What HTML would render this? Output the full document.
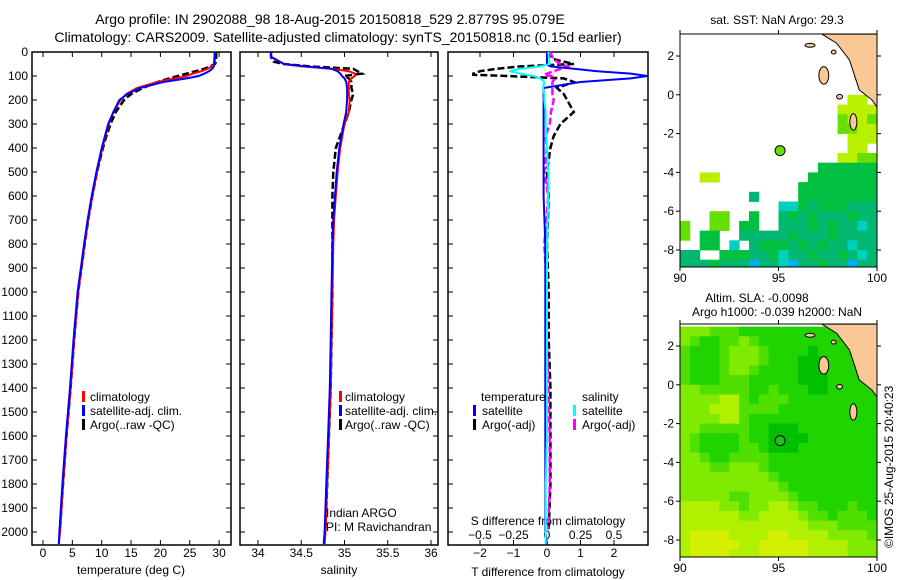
<!DOCTYPE html>
<html><head><meta charset="utf-8"><style>
html,body{margin:0;padding:0;background:#fff;}
svg{display:block;font-family:"Liberation Sans",sans-serif;}
</style></head><body>
<svg id="fig" width="900" height="580" viewBox="0 0 900 580">
<text x="330" y="24" font-size="14" text-anchor="middle">Argo profile: IN 2902088_98 18-Aug-2015 20150818_529 2.8779S 95.079E</text>
<text x="338" y="42" font-size="14" text-anchor="middle">Climatology: CARS2009. Satellite-adjusted climatology: synTS_20150818.nc (0.15d earlier)</text>
<text x="777" y="24" font-size="12" text-anchor="middle">sat. SST: NaN Argo: 29.3</text>
<text x="757" y="302" font-size="12" text-anchor="middle">Altim. SLA: -0.0098</text>
<text x="777" y="316" font-size="12" text-anchor="middle">Argo h1000: -0.039 h2000: NaN</text>
<text x="0" y="0" font-size="12" transform="translate(893,548) rotate(-90)">©IMOS 25-Aug-2015 20:40:23</text>
</svg>
<script>
// ---- profile data ----
const depthClim=[0,20,50,60,70,80,90,100,110,125,150,175,200,250,300,400,500,600,700,800,1000,1200,1400,1600,1800,2000,2050];
const tempClim=[29.2,29.2,29.1,28.8,28.0,27,25.5,24.5,22.5,19.5,16,14.2,13.2,12,11.2,10.1,9.2,8.4,7.7,7.1,6.0,5.3,4.7,4.0,3.4,2.9,2.7];
const tempSat=[29.3,29.3,29.2,29.1,28.8,28.3,27.5,26.5,24.5,20.5,16.5,14.4,13.0,12,11.1,10.0,9.1,8.3,7.6,7.0,5.9,5.2,4.6,3.9,3.3,2.8,2.7];
const salClim=[34.15,34.15,34.3,34.5,34.85,35.05,35.12,35.12,35.08,35.05,35.05,35.05,35.06,35.05,35.0,34.95,34.92,34.9,34.88,34.87,34.86,34.85,34.84,34.82,34.8,34.78,34.77];
const salSat=[34.15,34.15,34.3,34.55,34.85,34.92,34.95,34.97,35.0,35.02,35.03,35.03,35.03,35.02,34.99,34.94,34.91,34.89,34.87,34.86,34.85,34.84,34.83,34.81,34.79,34.77,34.76];
const depthArgo=[0,20,40,50,60,70,80,90,100,110,125,150,175,200,250,300,350,400,500,600,700,800,1000,1200,1400,1600,1800,1990];
const tempArgo=[29.5,29.5,29.5,29.3,28.5,27.5,26.0,24.5,23.0,21.5,19.5,17.0,15.0,13.8,12.4,11.5,10.8,10.2,9.2,8.4,7.7,7.1,6.0,5.3,4.7,4.0,3.4,2.9];
const salArgo=[34.15,34.15,34.18,34.3,34.6,35.1,35.15,35.2,35.0,35.05,35.08,35.08,35.1,35.08,35.05,35.0,34.95,34.9,34.87,34.86,34.86,34.86,34.86,34.85,34.84,34.82,34.8,34.78];
const diffDepth=[0,50,60,70,80,90,100,110,125,150,175,200,250,300,400,500,600,800,1000,1200,1400,1600,1800,2000,2050];
const dTsat=[0,0,0.1,0.8,1.5,2.5,3.0,2.5,1.0,-0.1,-0.1,-0.1,-0.1,-0.1,-0.1,-0.1,-0.1,-0.05,-0.05,-0.05,-0.05,-0.05,-0.05,-0.05,0];
const dSsat=[0.01,0.02,-0.05,-0.2,-0.28,-0.2,-0.1,-0.05,-0.02,-0.03,-0.02,-0.02,-0.01,-0.01,0,0.01,0.01,0,0,0,0,0,-0.01,-0.01,-0.01];
const diffDepthArgo=[0,30,50,60,70,80,90,95,100,110,125,150,175,200,250,300,350,400,500,600,800,1000,1200,1400,1600,1800,1990];
const dTargo=[0,0.2,0.8,-0.8,-1.5,-2.0,-2.2,-2.2,-1.2,0.5,0.8,0.3,0.5,0.6,0.8,0.4,0.2,0.1,0.0,0.05,0.0,0.05,0.05,0.1,0.1,0.1,0.05];
const dSargo=[0.02,0.05,0.1,0.15,0.1,0.05,0.0,-0.02,0.03,0.06,0.04,0.04,0.04,0.05,0.03,0.02,-0.01,0.0,-0.02,0.01,-0.02,0.0,0.0,0.01,0.02,0.02,0.01];
const depthTicks=[0,100,200,300,400,500,600,700,800,900,1000,1100,1200,1300,1400,1500,1600,1700,1800,1900,2000];
const tempTicks=[0,5,10,15,20,25,30];
const salTicks=[34,34.5,35,35.5,36];
const tDiffTicks=[-2,-1,0,1,2];
const sDiffTicks=[-0.5,-0.25,0,0.25,0.5];
// ---- map data: 0.5 deg cells, rows from lat 3 downward, cols from lon 90 ----
const sstGrid=[
"....................","....................","....................","....................",
"....................","....................",".................yy.","................yyyy",
"................lyyl","................llyy",".................yyy",".................yy.",
"................yyll","..............gggggg","..yy.........ggggggg","............gggggggg",
".......t....gggggggg","..........ccgtgggttt","...ll..g..tgtgtttgtt","l..ll.gg..tttgtgttct",
"l.gg..tttttgtttgtttt","..gg.c.tgggtgtgttctt","tt..gggttgcttgttgtct","tttgtttbttcbttgttbtt"];
const slaGrid=[
"dddcccbbbbbbbbbbbbbb","dcbbccdcbbbbbbbbbbbb","cbbbcdddcbbbbabbbbbb","cbbbcdddcbbbaaabbbbb",
"cbbbcddcbbbbaaabbbbb","cbbbcccbbbbbaaabbbbb","ddcccccbbcbbbaabbbbb","ddddeecbcccbbbbbbbbb",
"dddeeeccccbbbbbbbbbb","ddddeecbbbbbbbbbbbbb","ddcccccbbaaabbbbbbbb","dcbbbbcbbaaaabbbbbbb",
"dcbbbbccbaaabbbbbbbb","ddcbbccccbbbbbbbbbbb","dddccdddcbbbbbbbbbbb","dddddddddcbbbbbbbbbb",
"ddddddddddcbbbbbbbbb","dddddccddddcbbbbbbbb","eeeeddcddeedccbbbcbb","eeeeeeddeeeedccbcccb",
"eeeeeeeeeeeeedddcccc","effffeeeeffeeeeddddc","efffffeefffffeeeeddd","effffeeefffffeeeeddd"];
const landLon=[97.2,97.95,98.6,99.1,99.75,100,100];
const landLat=[3.13,2.66,1.8,0.25,-0.27,-0.63,3.13];
const argoLon=95.08, argoLat=-2.88;
const mapLonTicks=[90,95,100];
const mapLatTicks=[2,0,-2,-4,-6,-8];

const NS='http://www.w3.org/2000/svg';
const svg=document.getElementById('fig');
function mk(tag,attrs,parent){const e=document.createElementNS(NS,tag);for(const k in attrs)e.setAttribute(k,attrs[k]);(parent||svg).appendChild(e);return e;}

const Y0=52,Y1=545,yD=d=>Y0+d*0.24;
function panel(name,x0,x1){
  const g=mk('g',{});
  
  
  const r=mk('rect',{x:x0,y:Y0,width:x1-x0,height:Y1-Y0,fill:'none',stroke:'#000','stroke-width':1.5},g);
  
  
  return g;
}
function line(g,xs,ds,fx,color,dash,name,w){
  const pts=xs.map((v,i)=>fx(v).toFixed(1)+','+yD(ds[i]).toFixed(1)).join(' ');
  const p=mk('polyline',{points:pts,fill:'none',stroke:color,'stroke-width':w||2,'stroke-dasharray':dash||'none'},g);
  
  
}
function txt(g,x,y,s,anchor,size,name){
  const t=mk('text',{x:x,y:y,'font-size':size||12,'text-anchor':anchor||'start'},g);
  t.textContent=s;
  
  
  return t;
}
function xticks(g,ticks,fx,labY,name,len){
  ticks.forEach(v=>{
    const x=fx(v);
    mk('line',{x1:x,y1:Y1,x2:x,y2:Y1-(len||5),stroke:'#000'},g);
    mk('line',{x1:x,y1:Y0,x2:x,y2:Y0+(len||5),stroke:'#000'},g);
    txt(g,x,labY,String(v).replace('-','−'),'middle',12,name);
  });
}
function yticks(g,x0,x1,labels){
  depthTicks.forEach(d=>{
    mk('line',{x1:x0,y1:yD(d),x2:x0+5,y2:yD(d),stroke:'#000'},g);
    mk('line',{x1:x1,y1:yD(d),x2:x1-5,y2:yD(d),stroke:'#000'},g);
    if(labels) txt(g,28,yD(d)+4,String(d),'end',12,'depth-tick-label');
  });
}
function legendBar(g,x,y,color,name){
  const r=mk('rect',{x:x,y:y-10,width:3,height:11,fill:color},g);
  
  
}

const xT=v=>43+v*5.87;
const g1=panel('temperature-panel',32,231);
yticks(g1,32,231,true);
xticks(g1,tempTicks,xT,557,'temperature-tick-label');
txt(g1,131,574,'temperature (deg C)','middle',12,'temperature-axis-title');
line(g1,tempArgo,depthArgo,xT,'#000','7,3','temperature-argo-line',2.5);
line(g1,tempClim,depthClim,xT,'#ff0000',null,'temperature-climatology-line');
line(g1,tempSat,depthClim,xT,'#0000ff',null,'temperature-satellite-line');
legendBar(g1,82,401,'#ff0000','legend-climatology-swatch');txt(g1,90,401,'climatology','start',12,'legend-climatology');
legendBar(g1,82,415,'#0000ff','legend-satellite-swatch');txt(g1,90,415,'satellite-adj. clim.','start',12,'legend-satellite-adj');
legendBar(g1,82,429,'#000','legend-argo-swatch');txt(g1,90,429,'Argo(..raw -QC)','start',12,'legend-argo');

const xS=v=>258+(v-34)*86.5;
const g2=panel('salinity-panel',240,438);
yticks(g2,240,438,false);
xticks(g2,salTicks,xS,557,'salinity-tick-label');
txt(g2,339,574,'salinity','middle',12,'salinity-axis-title');
line(g2,salArgo,depthArgo,xS,'#000','7,3','salinity-argo-line',2.5);
line(g2,salClim,depthClim,xS,'#ff0000',null,'salinity-climatology-line');
line(g2,salSat,depthClim,xS,'#0000ff',null,'salinity-satellite-line');
legendBar(g2,339,401,'#ff0000','legend2-climatology-swatch');txt(g2,345,401,'climatology','start',12,'legend2-climatology');
legendBar(g2,339,415,'#0000ff','legend2-satellite-swatch');txt(g2,345,415,'satellite-adj. clim.','start',12,'legend2-satellite-adj');
legendBar(g2,339,429,'#000','legend2-argo-swatch');txt(g2,345,429,'Argo(..raw -QC)','start',12,'legend2-argo');
txt(g2,326,517,'Indian ARGO','start',12,'pi-institution');
txt(g2,326,531,'PI: M Ravichandran','start',12,'pi-name');

const xdT=v=>547+v*33.5;
const xdS=v=>547+v*134;
const g3=panel('difference-panel',448,648);
yticks(g3,448,648,false);
xticks(g3,tDiffTicks,xdT,557,'t-diff-tick-label');
sDiffTicks.forEach(v=>txt(g3,xdS(v),539,String(v).replace('-','−'),'middle',12,'s-diff-tick-label'));
txt(g3,548,525,'S difference from climatology','middle',12,'s-diff-axis-title');
txt(g3,548,576,'T difference from climatology','middle',12,'t-diff-axis-title');
line(g3,dTargo,diffDepthArgo,xdT,'#000','7,3','t-diff-argo-line',2.5);
line(g3,dSargo,diffDepthArgo,xdS,'#ff00ff','7,3','s-diff-argo-line',2.5);
line(g3,dTsat,diffDepth,xdT,'#0000ff',null,'t-diff-satellite-line');
line(g3,dSsat,diffDepth,xdS,'#00ffff',null,'s-diff-satellite-line');
txt(g3,481,401,'temperature','start',12,'legend3-temperature-heading');
txt(g3,582,401,'salinity','start',12,'legend3-salinity-heading');
legendBar(g3,473,415,'#0000ff','legend3-t-satellite-swatch');txt(g3,482,415,'satellite','start',12,'legend3-t-satellite');
legendBar(g3,473,429,'#000','legend3-t-argo-swatch');txt(g3,482,429,'Argo(-adj)','start',12,'legend3-t-argo');
legendBar(g3,573,415,'#00ffff','legend3-s-satellite-swatch');txt(g3,582,415,'satellite','start',12,'legend3-s-satellite');
legendBar(g3,573,429,'#ff00ff','legend3-s-argo-swatch');txt(g3,582,429,'Argo(-adj)','start',12,'legend3-s-argo');

const sstColors={g:'#00c040',t:'#00b870',l:'#66e000',y:'#b8f000',c:'#00d0c0',b:'#00b0f0'};
const slaColors={a:'#00c000',b:'#20d400',c:'#50e000',d:'#80ea00',e:'#b0f000',f:'#d2f000'};
function map(name,top,grid,colors,markerFill){
  const mx0=680,mx1=877,yLat2=top+22,k=19.4;
  const bot=top+233;
  const X=lon=>mx0+(lon-90)*19.7, Y=lat=>yLat2+(2-lat)*k;
  const g=mk('g',{});
  
  
  const cid='clip-'+name;
  const cp=mk('clipPath',{id:cid},g);mk('rect',{x:mx0,y:top,width:mx1-mx0,height:bot-top},cp);
  const cg=mk('g',{'clip-path':'url(#'+cid+')'},g);
  grid.forEach((row,i)=>{
    for(let j=0;j<row.length;j++){
      const ch=row[j]; if(!colors[ch]) continue;
      const lon=90+j*0.5, lat=3-i*0.5;
      const r=mk('rect',{x:X(lon).toFixed(1),y:Y(lat).toFixed(1),width:(X(lon+0.5)-X(lon)+0.4).toFixed(1),height:(Y(lat-0.5)-Y(lat)+0.4).toFixed(1),fill:colors[ch]},cg);
      
      
    }
  });
  const lp=mk('polygon',{points:landLon.map((v,i)=>X(v)+','+Y(landLat[i])).join(' '),fill:'#f9c896',stroke:'#000','stroke-width':1},cg);
  
  
  [[97.3,1.0,0.25,0.45],[98.8,-1.4,0.18,0.42],[96.6,2.55,0.25,0.1],[97.8,2.2,0.12,0.1],[98.1,-0.1,0.15,0.12]].forEach(a=>{
    const e=mk('ellipse',{cx:X(a[0]),cy:Y(a[1]),rx:a[2]*19.7,ry:a[3]*k,fill:'#f9c896',stroke:'#000'},cg);
    
    
  });
  const mkr=mk('circle',{cx:X(argoLon),cy:Y(argoLat),r:5,fill:markerFill,stroke:'#000','stroke-width':1},g);
  
  
  const fr=mk('rect',{x:mx0,y:top,width:mx1-mx0,height:bot-top,fill:'none',stroke:'#000','stroke-width':1},g);
  
  
  mapLonTicks.forEach(v=>{mk('line',{x1:X(v),y1:bot,x2:X(v),y2:bot+4,stroke:'#000'},g);mk('line',{x1:X(v),y1:top,x2:X(v),y2:top-4,stroke:'#000'},g);txt(g,X(v),bot+15,String(v),'middle',12,'map-lon-tick-label');});
  mapLatTicks.forEach(v=>{mk('line',{x1:mx0,y1:Y(v),x2:mx0-4,y2:Y(v),stroke:'#000'},g);mk('line',{x1:mx1,y1:Y(v),x2:mx1+4,y2:Y(v),stroke:'#000'},g);txt(g,674,Y(v)+4,String(v),'end',12,'map-lat-tick-label');});
}
map('sst-map',34,sstGrid,sstColors,'#66e000');
map('sla-map',324,slaGrid,slaColors,'#20c020');
</script>
</body></html>
